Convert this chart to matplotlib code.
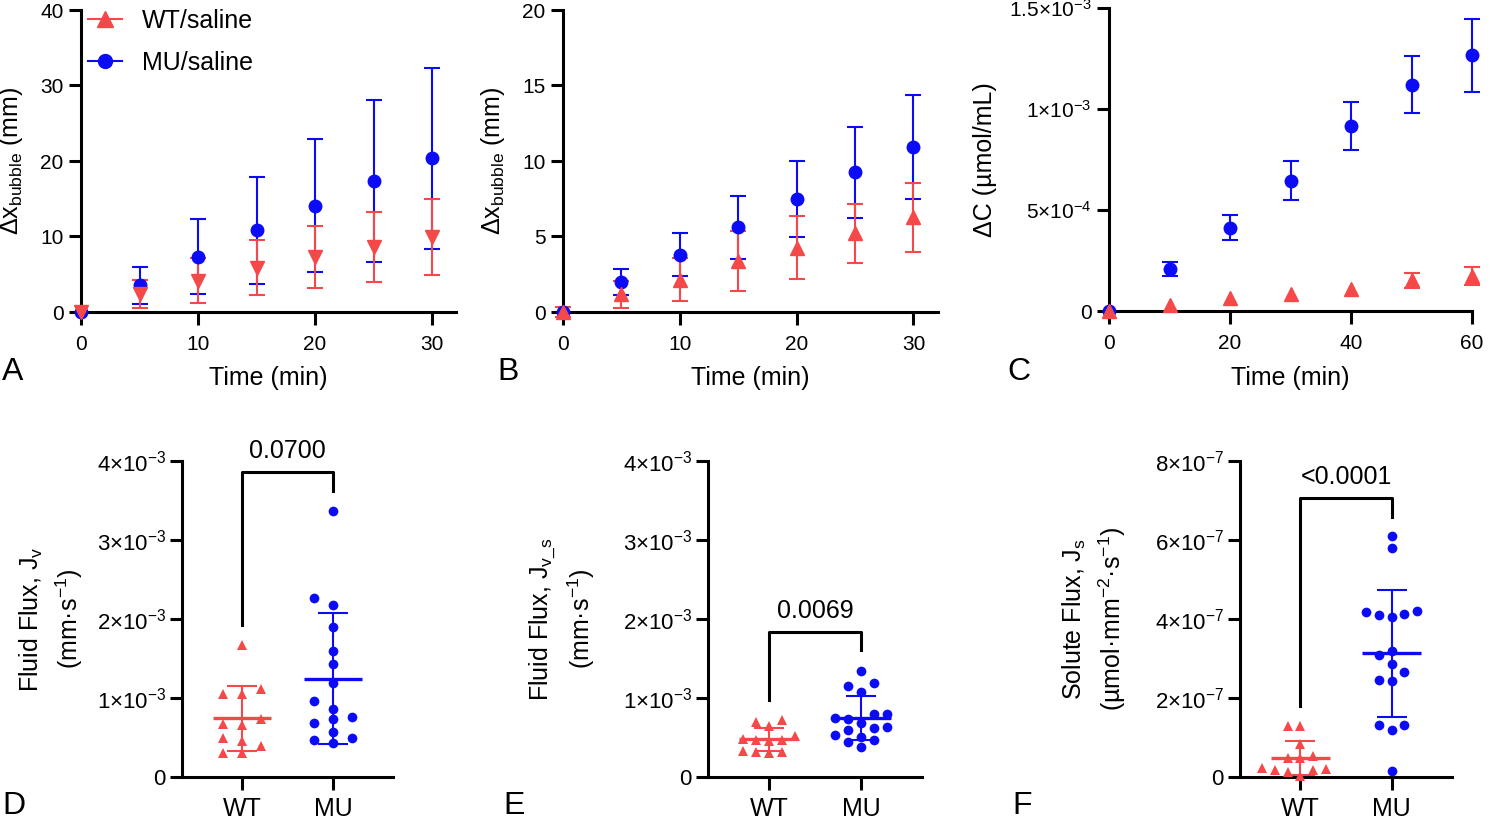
import numpy as np
import matplotlib
matplotlib.use("Agg")
import matplotlib.pyplot as plt
from matplotlib.lines import Line2D
from matplotlib.ticker import FuncFormatter

plt.rcParams["font.family"] = ["Liberation Sans", "DejaVu Sans"]
plt.rcParams["mathtext.fontset"] = "custom"
plt.rcParams["mathtext.rm"] = "Liberation Sans"
plt.rcParams["mathtext.it"] = "Liberation Sans"
plt.rcParams["mathtext.bf"] = "Liberation Sans:bold"

RED = "#f54848"
BLUE = "#0b0bf5"

# ---- panel A / B: bubble displacement (mm) vs time (min)
time_ab = [0, 5, 10, 15, 20, 25, 30]
a_wt_mean = [0, 2.4, 4.15, 5.85, 7.3, 8.6, 9.95]
a_wt_sd = [0, 1.9, 2.95, 3.65, 4.1, 4.6, 5.05]
a_mu_mean = [0, 3.55, 7.35, 10.8, 14.1, 17.35, 20.35]
a_mu_sd = [0, 2.45, 4.95, 7.1, 8.8, 10.75, 11.95]

b_wt_mean = [0, 1.17, 2.14, 3.36, 4.27, 5.2, 6.26]
b_wt_sd = [0.3, 0.88, 1.44, 1.99, 2.08, 1.95, 2.3]
b_mu_mean = [0, 1.98, 3.78, 5.62, 7.49, 9.25, 10.95]
b_mu_sd = [0, 0.88, 1.42, 2.08, 2.52, 3.0, 3.45]

# ---- panel C: concentration change (umol/mL) vs time (min)
time_c = [0, 10, 20, 30, 40, 50, 60]
c_wt_mean = np.array([0, 0.031, 0.064, 0.083, 0.111, 0.1525, 0.1725]) * 1e-3
c_wt_sd = np.array([0, 0, 0, 0, 0, 0.037, 0.0455]) * 1e-3  # small SDs hidden by marker
c_mu_mean = np.array([0, 0.21, 0.412, 0.646, 0.916, 1.121, 1.265]) * 1e-3
c_mu_sd = np.array([0, 0.035, 0.061, 0.097, 0.121, 0.142, 0.179]) * 1e-3

# ---- panels D-F: individual values
groups = ["WT", "MU"]
d_wt = np.array([1.672, 1.116, 1.053, 1.053, 0.733, 0.674, 0.661, 0.50, 0.45,
                 0.387, 0.30, 0.30]) * 1e-3
d_mu = np.array([3.372, 2.272, 2.171, 1.90, 1.60, 1.43, 1.196, 0.968, 0.86,
                 0.758, 0.733, 0.683, 0.564, 0.493, 0.472, 0.43]) * 1e-3
e_wt = np.array([0.716, 0.69, 0.64, 0.52, 0.48, 0.47, 0.47, 0.46, 0.33, 0.32,
                 0.32, 0.30]) * 1e-3
e_mu = np.array([1.348, 1.188, 1.154, 1.07, 0.80, 0.796, 0.746, 0.733, 0.683,
                 0.632, 0.62, 0.598, 0.535, 0.506, 0.472, 0.442, 0.379]) * 1e-3
f_wt = np.array([1.30, 1.28, 0.84, 0.52, 0.48, 0.48, 0.23, 0.20, 0.17, 0.17,
                 0.13, 0.03]) * 1e-7
f_mu = np.array([6.10, 5.79, 4.21, 4.18, 4.13, 4.11, 4.06, 3.18, 3.09, 2.87,
                 2.67, 2.46, 2.42, 1.31, 1.31, 1.20, 0.16]) * 1e-7
p_labels = ["0.0700", "0.0069", "<0.0001"]

W, H = 1500, 821
fig = plt.figure(figsize=(15, 8.21), dpi=100)


def px_axes(l, t, r, b):
    return fig.add_axes([l / W, 1 - b / H, (r - l) / W, (b - t) / H])


def style(ax, xlen=9.5, ylen=8.6, xpad=7, ypad=4, size=15):
    for s in ["top", "right"]:
        ax.spines[s].set_visible(False)
    for s in ["left", "bottom"]:
        ax.spines[s].set_linewidth(2.2)
    ax.tick_params(axis="x", length=xlen, width=2.2, labelsize=size, pad=xpad)
    ax.tick_params(axis="y", length=ylen, width=2.2, labelsize=size, pad=ypad)


def sci(v, pos):
    if abs(v) < 1e-15:
        return "0"
    e = int(np.floor(np.log10(abs(v)) + 1e-9))
    m = round(v / 10 ** e, 2)
    return f"{m:g}×10$^{{{e}}}$"


def eb(ax, x, y, sd, color, marker, ms):
    sd = np.asarray(sd, dtype=float)
    sd = np.where(sd == 0, np.nan, sd)
    c = ax.errorbar(x, y, yerr=sd, fmt=marker, color=color, ms=ms,
                    elinewidth=1.5, capsize=6, capthick=1.5, zorder=3)
    for art in c.get_children():
        art.set_clip_on(False)


# ---------------- A
axA = px_axes(81, 10, 456, 312)
eb(axA, time_ab, a_mu_mean, a_mu_sd, BLUE, "o", 9)
eb(axA, time_ab, a_wt_mean, a_wt_sd, RED, "v", 10)
axA.set_xlim(0, 32.05)
axA.set_ylim(0, 40)
axA.set_xticks([0, 10, 20, 30])
axA.set_yticks([0, 10, 20, 30, 40])
style(axA)
axA.set_ylabel(r"Δx$_{\mathrm{bubble}}$ (mm)", fontsize=18)
axA.yaxis.set_label_coords(-0.149, 0.5)
axA.set_xlabel("Time (min)", fontsize=18)
axA.xaxis.set_label_coords(0.5, -0.179)
handles = [Line2D([], [], color=RED, marker="^", ms=12, lw=1.5),
           Line2D([], [], color=BLUE, marker="o", ms=10, lw=1.5)]
axA.legend(handles, ["WT/saline", "MU/saline"], loc="upper left",
           bbox_to_anchor=(88 / W, 1 - 9 / H), bbox_transform=fig.transFigure,
           frameon=False, fontsize=18, handlelength=1.35, handletextpad=0.8,
           labelspacing=0.73, borderpad=0, borderaxespad=0)

# ---------------- B
axB = px_axes(563, 10, 938, 312)
eb(axB, time_ab, b_mu_mean, b_mu_sd, BLUE, "o", 9)
eb(axB, time_ab, b_wt_mean, b_wt_sd, RED, "^", 10)
axB.set_xlim(0, 32.1)
axB.set_ylim(0, 20)
axB.set_xticks([0, 10, 20, 30])
axB.set_yticks([0, 5, 10, 15, 20])
style(axB)
axB.set_ylabel(r"Δx$_{\mathrm{bubble}}$ (mm)", fontsize=18)
axB.yaxis.set_label_coords(-0.149, 0.5)
axB.set_xlabel("Time (min)", fontsize=18)
axB.xaxis.set_label_coords(0.5, -0.179)

# ---------------- C
axC = px_axes(1109, 8, 1472, 311)
eb(axC, time_c, c_mu_mean, c_mu_sd, BLUE, "o", 9)
eb(axC, time_c, c_wt_mean, c_wt_sd, RED, "^", 10)
axC.set_xlim(0, 60)
axC.set_ylim(0, 1.5e-3)
axC.set_xticks([0, 20, 40, 60])
axC.set_yticks([0, 5e-4, 1e-3, 1.5e-3])
axC.yaxis.set_major_formatter(FuncFormatter(sci))
style(axC)
axC.set_ylabel("ΔC (µmol/mL)", fontsize=18)
axC.yaxis.set_label_coords(-0.309, 0.5)
axC.set_xlabel("Time (min)", fontsize=18)
axC.xaxis.set_label_coords(0.5, -0.1815)


# ---------------- D-F scatter panels
def swarm(vals, step, thresh):
    order = np.argsort(vals)
    offs = np.zeros(len(vals))
    placed = []
    for i in order:
        for k in [0, -1, 1, -2, 2, -3, 3]:
            if all(not (o == k and abs(vals[i] - v) < thresh) for v, o in placed):
                break
        offs[i] = k * step
        placed.append((vals[i], k))
    return offs


def scatter_panel(ax, wt, mu, ytop, step, br, ptxt, p):
    thresh = ytop * 10 / 316
    for i, (vals, col, mk) in enumerate([(wt, RED, "^"), (mu, BLUE, "o")]):
        m, s = np.mean(vals), np.std(vals, ddof=1)
        ax.hlines(m, i - 0.32, i + 0.32, color=col, lw=2.4, zorder=2)
        ax.vlines(i, m - s, m + s, color=col, lw=1.5, zorder=2)
        ax.hlines([m - s, m + s], i - 0.165, i + 0.165, color=col, lw=1.5, zorder=2)
        ax.plot(i + swarm(vals, step, thresh), vals, ls="none", marker=mk,
                color=col, ms=7.5 if mk == "^" else 7, mew=0, clip_on=False, zorder=3)
    ax.plot([0, 0, 1, 1], br, color="black", lw=2.2, clip_on=False)
    ax.text(0.5, ptxt, p, ha="center", va="baseline", fontsize=18)
    ax.set_xlim(-0.66, 1.66)
    ax.set_ylim(0, ytop)
    ax.set_xticks([0, 1])
    ax.set_xticklabels(groups)
    ax.yaxis.set_major_formatter(FuncFormatter(sci))
    style(ax, xlen=9.5, ylen=8.6, xpad=5, ypad=3, size=16)
    ax.tick_params(axis="x", labelsize=18)


axD = px_axes(182, 461, 393, 777)
scatter_panel(axD, d_wt, d_mu, 4e-3, 0.21,
              [1.926e-3, 3.857e-3, 3.857e-3, 3.62e-3], 4.04e-3, p_labels[0])
axD.set_yticks([0, 1e-3, 2e-3, 3e-3, 4e-3])
axD.set_ylabel("Fluid Flux, J$_{\\mathrm{v}}$\n(mm·s$^{-1}$)", fontsize=18,
               linespacing=1.35)
axD.yaxis.set_label_coords(-0.46, 0.5)

axE = px_axes(708, 461, 922, 777)
scatter_panel(axE, e_wt, e_mu, 4e-3, 0.14,
              [0.98e-3, 1.833e-3, 1.833e-3, 1.61e-3], 2.01e-3, p_labels[1])
axE.set_yticks([0, 1e-3, 2e-3, 3e-3, 4e-3])
axE.set_ylabel("Fluid Flux, J$_{\\mathrm{v\\_s}}$\n(mm·s$^{-1}$)", fontsize=18,
               linespacing=1.35)
axE.yaxis.set_label_coords(-0.519, 0.5)

axF = px_axes(1240, 461, 1452, 777)
scatter_panel(axF, f_wt, f_mu, 8e-7, 0.14,
              [1.79e-7, 7.06e-7, 7.06e-7, 6.58e-7], 7.42e-7, p_labels[2])
axF.set_yticks([0, 2e-7, 4e-7, 6e-7, 8e-7])
axF.set_ylabel("Solute Flux, J$_{\\mathrm{s}}$\n(µmol·mm$^{-2}$·s$^{-1}$)",
               fontsize=18, linespacing=1.35)
axF.yaxis.set_label_coords(-0.528, 0.5)

# panel letters
for lab, x, y in [("A", 2, 380), ("B", 497, 380), ("C", 1007, 380),
                  ("D", 2, 814), ("E", 503, 814), ("F", 1012, 814)]:
    fig.text(x / W, 1 - y / H, lab, fontsize=23, ha="left", va="baseline")

fig.savefig("out.png", dpi=100)
